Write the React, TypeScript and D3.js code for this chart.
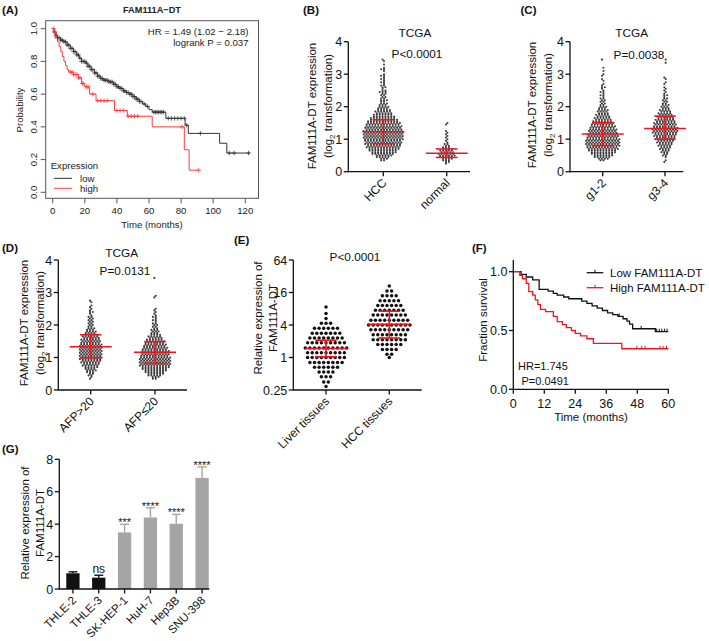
import React from "react";
import * as d3 from "d3";

const FONT = "'Liberation Sans', Arial, Helvetica, sans-serif";
const RED = "#f0141e";
const INK = "#111";
const DOT = "#3a3a3a";

// ---------------- Panel A (KM, R style) ----------------
type Step = [number, number];
const aYTicks = [0, 0.2, 0.4, 0.6, 0.8, 1.0];
const aXTicks = [0, 20, 40, 60, 80, 100, 120];
const aLowSteps: Step[] = [[0,1],[1,0.98],[2,0.96],[3,0.945],[5,0.93],[7,0.92],[9,0.9],[11,0.88],[13,0.86],[15,0.84],[16.5,0.82],[18,0.8],[20.5,0.79],[22,0.77],[24,0.75],[26,0.73],[28,0.71],[30,0.695],[32,0.685],[35,0.675],[38,0.66],[40,0.645],[42,0.635],[44,0.62],[46,0.61],[48,0.6],[50,0.585],[52,0.57],[54,0.555],[56,0.54],[58,0.525],[60,0.505],[62,0.49],[70.5,0.452],[82.5,0.41],[84.5,0.36],[104,0.3],[108.5,0.24]];
const aLowEnd = 123;
const aLowCensor = [1,2,3,4,5,6,7,8,9,10,11,12,13,14,15,16,17,18,19,20,21,22,23,24,25,26,27,28,29,30,31,32,33,34,35,36,37,38,39,40,41,42,43,44,45,46,47,48,49,50,51,52,53,54,55,57,59,63,64,65,66,67,68,69,72,74,76,78,80,82,83.5,92,110,113,122];
const aHighSteps: Step[] = [[0,1],[1,0.98],[2,0.95],[3,0.92],[4,0.89],[5,0.86],[6,0.83],[7,0.8],[8,0.775],[9,0.75],[10,0.735],[13,0.72],[16,0.7],[18,0.665],[20,0.645],[23,0.6],[27,0.56],[38.5,0.5],[46.5,0.465],[62,0.4],[82,0.26],[85,0.135]];
const aHighEnd = 91;
const aHighCensor = [0.5,1,1.5,2,11,12,13,14,15,16,17,18.5,19,21,22,25,28,30,32,34,40,42,44,47,49,51,53,80.5,91];

// ---------------- Panel B ----------------
const bCategories = ["HCC", "normal"];
const bYTicks = [0, 1, 2, 3, 4];
const bHccStart = 0.35;
const bHccCounts = [2,3,5,6,8,9,10,11,12,12,13,13,13,14,14,14,14,14,14,13,13,13,12,12,11,10,9,8,7,6,6,5,4,4,3,3,2,3,2,2,2,2,3,2,1,2,2,1,2,1,2,1,2,1,0,1,2,1,0,1,0,1,1];
const bNormalStart = 0.25;
const bNormalCounts = [1,2,3,4,5,6,6,5,5,4,3,2,2,1,1,1,1,1,1,1,1,0,0,0,1,1];
const bMeans = [1.23, 0.57];
const bSdLo = [0.86, 0.44];
const bSdHi = [1.6, 0.7];

// ---------------- Panel C ----------------
const cCategories = ["g1-2", "g3-4"];
const cG12Start = 0.35;
const cG12Counts = [2,4,6,7,8,9,10,11,11,12,12,12,12,12,11,11,11,10,10,10,9,9,8,8,7,6,6,5,5,4,4,4,3,3,2,2,2,2,2,1,2,1,2,1,1,2,1,1,0,1,1,0,1,1,0,1,0,1,0,0,0,0,1];
const cG34Start = 0.3;
const cG34Counts = [1,1,0,1,2,2,3,3,4,4,5,5,6,6,7,7,8,8,9,9,9,9,8,8,8,7,7,6,6,5,5,4,4,3,3,3,2,2,2,2,1,2,1,1,1,1,1,0,1,1,0,1,1,0,0,0,0,0,0,0,0,1,0,1];
const cMeans = [1.16, 1.33];
const cSdLo = [0.8, 1.0];
const cSdHi = [1.51, 1.71];

// ---------------- Panel D ----------------
const dCategories = ["AFP>20", "AFP≤20"];
const dHighStart = 0.35;
const dHighCounts = [1,1,2,2,3,4,4,5,6,6,7,7,8,8,8,8,8,8,8,8,8,8,7,7,7,6,6,5,4,4,3,3,2,2,2,2,2,2,2,1,1,2,1,1,1,1,0,1,1];
const dLowStart = 0.35;
const dLowCounts = [2,3,5,6,7,8,9,10,11,11,11,11,11,11,10,10,10,10,9,9,8,8,7,7,6,5,5,4,3,3,3,2,2,2,2,1,2,1,2,1,1,1,1,1,0,0,0,0,0,0,1,1,0,0,0,0,0,0,0,0,0,0,1];
const dMeans = [1.33, 1.16];
const dSdLo = [0.99, 0.82];
const dSdHi = [1.7, 1.49];

// ---------------- Panel E ----------------
const eCategories = ["Liver tissues", "HCC tissues"];
const eYTicks = [0.25, 1, 4, 16, 64];
const eLiverLevels = [8.6, 6.5, 5.3, 4.3, 3.5, 2.8, 2.3, 1.87, 1.5, 1.23, 1.0, 0.81, 0.66, 0.54, 0.44, 0.35, 0.29];
const eLiverCounts = [1, 1, 1, 3, 6, 7, 8, 9, 10, 9, 9, 8, 6, 4, 3, 2, 1];
const eHccLevels = [21, 17, 14, 11.3, 9.2, 7.5, 6.1, 4.9, 4.0, 3.25, 2.64, 2.14, 1.74, 1.41, 1.15, 1.0];
const eHccCounts = [1, 2, 4, 5, 6, 7, 8, 9, 10, 9, 8, 8, 6, 4, 2, 1];
const eMeans = [1.47, 4.1];
const eSdLo = [1.03, 2.3];
const eSdHi = [2.09, 7.2];

// ---------------- Panel F ----------------
const fXTicks = [0, 12, 24, 36, 48, 60];
const fYTicks = [0, 0.5, 1.0];
const fLowSteps: Step[] = [[0,1],[3,0.977],[5,0.955],[7.5,0.93],[10,0.85],[13.5,0.835],[15.5,0.815],[17,0.8],[19.5,0.785],[21.5,0.77],[26.5,0.75],[28.5,0.73],[30.5,0.71],[32.5,0.69],[34.5,0.67],[36.5,0.65],[38.5,0.635],[40.5,0.62],[42.5,0.6],[44,0.58],[45,0.555],[46.2,0.515],[55,0.49]];
const fLowEnd = 60;
const fLowCensor = [41, 49.5, 55.5, 56.5, 57.5, 58.5, 59.5];
const fHighSteps: Step[] = [[0,1],[2.5,0.97],[3.5,0.94],[5,0.9],[6,0.83],[7.5,0.8],[8.5,0.76],[9.5,0.72],[10.5,0.68],[12.5,0.66],[15.5,0.62],[17,0.575],[19,0.55],[20.5,0.525],[22.5,0.5],[24,0.475],[26,0.455],[28.5,0.43],[31,0.39],[42,0.345]];
const fHighEnd = 60;
const fHighCensor = [47.8, 49.7, 51, 56.8, 58, 59.3];

// ---------------- Panel G ----------------
const gLabels = ["THLE-2", "THLE-3", "SK-HEP-1", "HuH-7", "Hep3B", "SNU-398"];
const gValues = [0.97, 0.7, 3.49, 4.41, 4.02, 6.85];
const gErrors = [0.09, 0.15, 0.5, 0.6, 0.58, 0.68];
const gSig = ["", "ns", "***", "****", "****", "****"];
const gIsNormal = [true, true, false, false, false, false];
const gYTicks = [0, 2, 4, 6, 8];

// ---------------- helpers ----------------
function survivalAt(steps: Step[], t: number) {
  let p = steps[0][1];
  for (const [ti, pi] of steps) {
    if (ti <= t) p = pi;
    else break;
  }
  return p;
}

function kmPath(steps: Step[], end: number, x: any, y: any) {
  const pts: Step[] = [...steps, [end, steps[steps.length - 1][1]]];
  return d3.line<Step>().x((d) => x(d[0])).y((d) => y(d[1])).curve(d3.curveStepAfter)(pts) || "";
}

function YAxis({ x, scale, ticks, fmt, top, fontSize = 12.5 }: any) {
  const y0 = scale(ticks[0]);
  const y1 = top !== undefined ? top : scale(ticks[ticks.length - 1]);
  return (
    <g>
      <line x1={x} x2={x} y1={y0 + 0.6} y2={y1} stroke={INK} strokeWidth={1.3} />
      {ticks.map((t: number, i: number) => (
        <g key={i}>
          <line x1={x - 4.5} x2={x} y1={scale(t)} y2={scale(t)} stroke={INK} strokeWidth={1.3} />
          <text x={x - 6} y={scale(t)} dy="0.36em" textAnchor="end" fontSize={fontSize} fill={INK}>
            {fmt ? fmt(t) : String(t)}
          </text>
        </g>
      ))}
    </g>
  );
}

function XAxisCat({ y, x0, x1, positions, labels, fontSize = 12, dx = 4, dy = 12 }: any) {
  return (
    <g>
      <line x1={x0} x2={x1} y1={y} y2={y} stroke={INK} strokeWidth={1.3} />
      {positions.map((p: number, i: number) => (
        <g key={i}>
          <line x1={p} x2={p} y1={y} y2={y + 4.5} stroke={INK} strokeWidth={1.3} />
          <text
            transform={`translate(${p + dx},${y + dy}) rotate(-45)`}
            textAnchor="end"
            fontSize={fontSize}
            fill={INK}
          >
            {labels[i]}
          </text>
        </g>
      ))}
    </g>
  );
}

function DotRows({ cx, levels, counts, y, spacing, r, fill, stagger = 0 }: any) {
  const out: any[] = [];
  counts.forEach((n: number, i: number) => {
    const cy = y(levels[i]);
    const off = stagger ? (i % 2 ? stagger : -stagger) : 0;
    for (let k = 0; k < n; k++) {
      out.push(<circle key={i + "-" + k} cx={cx + (k - (n - 1) / 2) * spacing + off} cy={cy} r={r} fill={fill} />);
    }
  });
  return <g>{out}</g>;
}

function binLevels(start: number, counts: number[]) {
  return counts.map((_, i) => Math.round((start + i * 0.05) * 100) / 100);
}

function MeanSD({ cx, y, mean, lo, hi, meanW = 42, capW = 21.5 }: any) {
  return (
    <g stroke={RED} strokeWidth={1.6} fill="none">
      <line x1={cx - meanW / 2} x2={cx + meanW / 2} y1={y(mean)} y2={y(mean)} />
      <line x1={cx} x2={cx} y1={y(lo)} y2={y(hi)} />
      <line x1={cx - capW / 2} x2={cx + capW / 2} y1={y(hi)} y2={y(hi)} />
      <line x1={cx - capW / 2} x2={cx + capW / 2} y1={y(lo)} y2={y(lo)} />
    </g>
  );
}

function YTitle2({ x1, x2, cy, line1, line2 }: any) {
  return (
    <g fontSize={11.5} fill={INK}>
      <text transform={`translate(${x1},${cy}) rotate(-90)`} textAnchor="middle">{line1}</text>
      <text transform={`translate(${x2},${cy}) rotate(-90)`} textAnchor="middle">{line2}</text>
    </g>
  );
}

function Log2Title({ x1, x2, cy }: any) {
  return (
    <g fontSize={11.5} fill={INK}>
      <text transform={`translate(${x1},${cy}) rotate(-90)`} textAnchor="middle">FAM111A-DT expression</text>
      <text transform={`translate(${x2},${cy}) rotate(-90)`} textAnchor="middle">
        (log<tspan fontSize={8} dy={3}>2</tspan>
        <tspan dy={-3}> transformation)</tspan>
      </text>
    </g>
  );
}

// ---------------- panels ----------------
function PanelA() {
  const x = d3.scaleLinear().domain([0, 120]).range([52.7, 245.3]);
  const y = d3.scaleLinear().domain([0, 1]).range([192.3, 28.7]);
  const box = { l: 45.7, r: 258.5, t: 20.7, b: 198.3 };
  const LOW = "#333";
  const HIGH = "#ff3b3b";
  const plus = (t: number, steps: Step[], c: string, k: string) => {
    const px = x(t), py = y(survivalAt(steps, t));
    return (
      <path key={k} d={`M${px - 2.2},${py}H${px + 2.2}M${px},${py - 2.2}V${py + 2.2}`} stroke={c} strokeWidth={0.8} />
    );
  };
  return (
    <g fontSize={9.6} fill="#222">
      <text x={152} y={12.5} textAnchor="middle" fontWeight="bold" fontSize={9.2}>FAM111A−DT</text>
      <rect x={box.l} y={box.t} width={box.r - box.l} height={box.b - box.t} fill="none" stroke="#555" strokeWidth={1} />
      {aYTicks.map((t, i) => (
        <g key={i}>
          <line x1={box.l - 5} x2={box.l} y1={y(t)} y2={y(t)} stroke="#555" />
          <text transform={`translate(37,${y(t)}) rotate(-90)`} textAnchor="middle">{t.toFixed(1)}</text>
        </g>
      ))}
      {aXTicks.map((t, i) => (
        <g key={i}>
          <line x1={x(t)} x2={x(t)} y1={box.b} y2={box.b + 5} stroke="#555" />
          <text x={x(t)} y={213.5} textAnchor="middle">{t}</text>
        </g>
      ))}
      <text x={152} y={228} textAnchor="middle">Time (months)</text>
      <text transform={`translate(22.5,110) rotate(-90)`} textAnchor="middle">Probability</text>
      <text x={248.5} y={34.5} textAnchor="end">HR = 1.49 (1.02 − 2.18)</text>
      <text x={248.5} y={46} textAnchor="end">logrank P = 0.037</text>
      <path d={kmPath(aLowSteps, aLowEnd, x, y)} fill="none" stroke={LOW} strokeWidth={1} />
      <path d={kmPath(aHighSteps, aHighEnd, x, y)} fill="none" stroke={HIGH} strokeWidth={1} />
      <g>{aLowCensor.map((t, i) => plus(t, aLowSteps, LOW, "l" + i))}</g>
      <g>{aHighCensor.map((t, i) => plus(t, aHighSteps, HIGH, "h" + i))}</g>
      <text x={50.7} y={168.5}>Expression</text>
      <line x1={54} x2={72} y1={178.3} y2={178.3} stroke={LOW} />
      <text x={80} y={181.8}>low</text>
      <line x1={54} x2={72} y1={188.3} y2={188.3} stroke={HIGH} />
      <text x={80} y={191.5}>high</text>
    </g>
  );
}

const SMALL = { spacing: 2.9, r: 1.05, fill: DOT, stagger: 0.7 };

function PanelB() {
  const y = d3.scaleLinear().domain([0, 4]).range([171.7, 41.7]);
  const pos = [383.3, 446.7];
  return (
    <g>
      <text x={415} y={37.3} textAnchor="middle" fontSize={11.8} fill={INK}>TCGA</text>
      <text x={417} y={58.3} textAnchor="middle" fontSize={11.8} fill={INK}>P&lt;0.0001</text>
      <DotRows cx={pos[0]} levels={binLevels(bHccStart, bHccCounts)} counts={bHccCounts} y={y} {...SMALL} />
      <DotRows cx={pos[1]} levels={binLevels(bNormalStart, bNormalCounts)} counts={bNormalCounts} y={y} {...SMALL} />
      {pos.map((p, i) => <MeanSD key={i} cx={p} y={y} mean={bMeans[i]} lo={bSdLo[i]} hi={bSdHi[i]} />)}
      <YAxis x={348.3} scale={y} ticks={bYTicks} />
      <XAxisCat y={171.7} x0={348.3} x1={470} positions={pos} labels={bCategories} />
      <Log2Title x1={316} x2={332} cy={106} />
    </g>
  );
}

function PanelC() {
  const y = d3.scaleLinear().domain([0, 4]).range([171.7, 41.7]);
  const pos = [602.7, 665];
  return (
    <g>
      <text x={631.7} y={37.3} textAnchor="middle" fontSize={11.8} fill={INK}>TCGA</text>
      <text x={639} y={59} textAnchor="middle" fontSize={11.8} fill={INK}>P=0.0038</text>
      <DotRows cx={pos[0]} levels={binLevels(cG12Start, cG12Counts)} counts={cG12Counts} y={y} {...SMALL} />
      <DotRows cx={pos[1]} levels={binLevels(cG34Start, cG34Counts)} counts={cG34Counts} y={y} {...SMALL} />
      {pos.map((p, i) => <MeanSD key={i} cx={p} y={y} mean={cMeans[i]} lo={cSdLo[i]} hi={cSdHi[i]} />)}
      <YAxis x={570} scale={y} ticks={bYTicks} />
      <XAxisCat y={171.7} x0={570} x1={683.3} positions={pos} labels={cCategories} />
      <Log2Title x1={536} x2={552} cy={105} />
    </g>
  );
}

function PanelD() {
  const y = d3.scaleLinear().domain([0, 4]).range([390, 260]);
  const pos = [90.7, 155];
  return (
    <g>
      <text x={121.7} y={256.5} textAnchor="middle" fontSize={11.8} fill={INK}>TCGA</text>
      <text x={125} y={274.5} textAnchor="middle" fontSize={11.8} fill={INK}>P=0.0131</text>
      <DotRows cx={pos[0]} levels={binLevels(dHighStart, dHighCounts)} counts={dHighCounts} y={y} {...SMALL} />
      <DotRows cx={pos[1]} levels={binLevels(dLowStart, dLowCounts)} counts={dLowCounts} y={y} {...SMALL} />
      {pos.map((p, i) => <MeanSD key={i} cx={p} y={y} mean={dMeans[i]} lo={dSdLo[i]} hi={dSdHi[i]} />)}
      <YAxis x={58.3} scale={y} ticks={bYTicks} />
      <XAxisCat y={390} x0={58.3} x1={187} positions={pos} labels={dCategories} />
      <Log2Title x1={28} x2={43.5} cy={323} />
    </g>
  );
}

function PanelE() {
  const y = d3.scaleLog().base(2).domain([0.25, 64]).range([390, 260]);
  const pos = [326, 389.3];
  return (
    <g>
      <text x={355} y={260.5} textAnchor="middle" fontSize={11.8} fill={INK}>P&lt;0.0001</text>
      <DotRows cx={pos[0]} levels={eLiverLevels} counts={eLiverCounts} y={y} spacing={4.6} r={1.75} fill="#111" />
      <DotRows cx={pos[1]} levels={eHccLevels} counts={eHccCounts} y={y} spacing={4.6} r={1.75} fill="#111" />
      {pos.map((p, i) => <MeanSD key={i} cx={p} y={y} mean={eMeans[i]} lo={eSdLo[i]} hi={eSdHi[i]} />)}
      <YAxis x={293.3} scale={y} ticks={eYTicks} />
      <XAxisCat y={390} x0={293.3} x1={421.7} positions={pos} labels={eCategories} />
      <YTitle2 x1={261.5} x2={277} cy={318} line1="Relative expression of" line2="FAM111A-DT" />
    </g>
  );
}

function PanelF() {
  const x = d3.scaleLinear().domain([0, 60]).range([513.3, 668.3]);
  const y = d3.scaleLinear().domain([0, 1]).range([389.3, 271.7]);
  const BLACK = "#111";
  const tick = (t: number, steps: Step[], c: string, k: string) => {
    const px = x(t), py = y(survivalAt(steps, t));
    return <line key={k} x1={px} x2={px} y1={py} y2={py - 3} stroke={c} strokeWidth={1} />;
  };
  return (
    <g fill={INK}>
      <path d={kmPath(fLowSteps, fLowEnd, x, y)} fill="none" stroke={BLACK} strokeWidth={1.3} />
      <path d={kmPath(fHighSteps, fHighEnd, x, y)} fill="none" stroke={RED} strokeWidth={1.3} />
      <g>{fLowCensor.map((t, i) => tick(t, fLowSteps, BLACK, "l" + i))}</g>
      <g>{fHighCensor.map((t, i) => tick(t, fHighSteps, RED, "h" + i))}</g>
      <line x1={513.3} x2={513.3} y1={389.9} y2={260} stroke={INK} strokeWidth={1.3} />
      {fYTicks.map((t, i) => (
        <g key={i}>
          <line x1={509} x2={513.3} y1={y(t)} y2={y(t)} stroke={INK} strokeWidth={1.3} />
          <text x={507.5} y={y(t)} dy="0.36em" textAnchor="end" fontSize={12.5}>{t.toFixed(1)}</text>
        </g>
      ))}
      <line x1={513.3} x2={669} y1={389.3} y2={389.3} stroke={INK} strokeWidth={1.3} />
      {fXTicks.map((t, i) => (
        <g key={i}>
          <line x1={x(t)} x2={x(t)} y1={389.3} y2={393.8} stroke={INK} strokeWidth={1.3} />
          <text x={x(t)} y={407.5} textAnchor="middle" fontSize={12.5}>{t}</text>
        </g>
      ))}
      <text x={591} y={421} textAnchor="middle" fontSize={11.5}>Time (months)</text>
      <text transform="translate(487,320) rotate(-90)" textAnchor="middle" fontSize={11.5}>Fraction survival</text>
      <text x={518} y={370} fontSize={11}>HR=1.745</text>
      <text x={521.5} y={385} fontSize={11}>P=0.0491</text>
      <line x1={586.7} x2={603.3} y1={272.7} y2={272.7} stroke={BLACK} strokeWidth={1.3} />
      <line x1={595} x2={595} y1={272.7} y2={269.7} stroke={BLACK} strokeWidth={1} />
      <text x={610} y={276.8} fontSize={11.5}>Low FAM111A-DT</text>
      <line x1={586.7} x2={603.3} y1={287.7} y2={287.7} stroke={RED} strokeWidth={1.3} />
      <line x1={595} x2={595} y1={287.7} y2={284.7} stroke={RED} strokeWidth={1} />
      <text x={610} y={291.8} fontSize={11.5}>High FAM111A-DT</text>
    </g>
  );
}

function PanelG() {
  const y = d3.scaleLinear().domain([0, 8]).range([589, 459.3]);
  const xb = d3.scaleBand().domain(gLabels).range([60, 215]);
  const bw = 13.3;
  const GREY = "#a5a5a5";
  const BLK = "#111";
  return (
    <g>
      {gLabels.map((l, i) => {
        const cx = (xb(l) as number) + xb.bandwidth() / 2;
        const c = gIsNormal[i] ? BLK : GREY;
        const top = y(gValues[i] + gErrors[i]);
        return (
          <g key={l}>
            <rect x={cx - bw / 2} y={y(gValues[i])} width={bw} height={y(0) - y(gValues[i])} fill={c} />
            <line x1={cx} x2={cx} y1={y(gValues[i])} y2={top} stroke={c} strokeWidth={1.4} />
            <line x1={cx - 4.5} x2={cx + 4.5} y1={top} y2={top} stroke={c} strokeWidth={1.4} />
            {gSig[i] === "ns" ? (
              <text x={cx} y={top - 2.5} textAnchor="middle" fontSize={12} fill={INK}>ns</text>
            ) : gSig[i] ? (
              <text x={cx} y={top + 2} textAnchor="middle" fontSize={11} fill={INK}>{gSig[i]}</text>
            ) : null}
          </g>
        );
      })}
      <YAxis x={59.3} scale={y} ticks={gYTicks} />
      <XAxisCat
        y={589}
        x0={59.3}
        x1={209.3}
        positions={gLabels.map((l) => (xb(l) as number) + xb.bandwidth() / 2)}
        labels={gLabels}
        fontSize={11.5}
      />
      <YTitle2 x1={29} x2={44} cy={523} line1="Relative expression of" line2="FAM111A-DT" />
    </g>
  );
}

export default function App() {
  return (
    <div style={{ position: "absolute", left: 0, top: 0 }}>
      <svg width={709} height={641} style={{ display: "block", background: "#fff", fontFamily: FONT }}>
        <g fontWeight="bold" fontSize={11.5} fill={INK}>
          <text x={2} y={14}>(A)</text>
          <text x={303} y={14}>(B)</text>
          <text x={520.5} y={14}>(C)</text>
          <text x={2} y={251.5}>(D)</text>
          <text x={234} y={243.5}>(E)</text>
          <text x={472} y={251.5}>(F)</text>
          <text x={2} y={453}>(G)</text>
        </g>
        <PanelA />
        <PanelB />
        <PanelC />
        <PanelD />
        <PanelE />
        <PanelF />
        <PanelG />
      </svg>
    </div>
  );
}
